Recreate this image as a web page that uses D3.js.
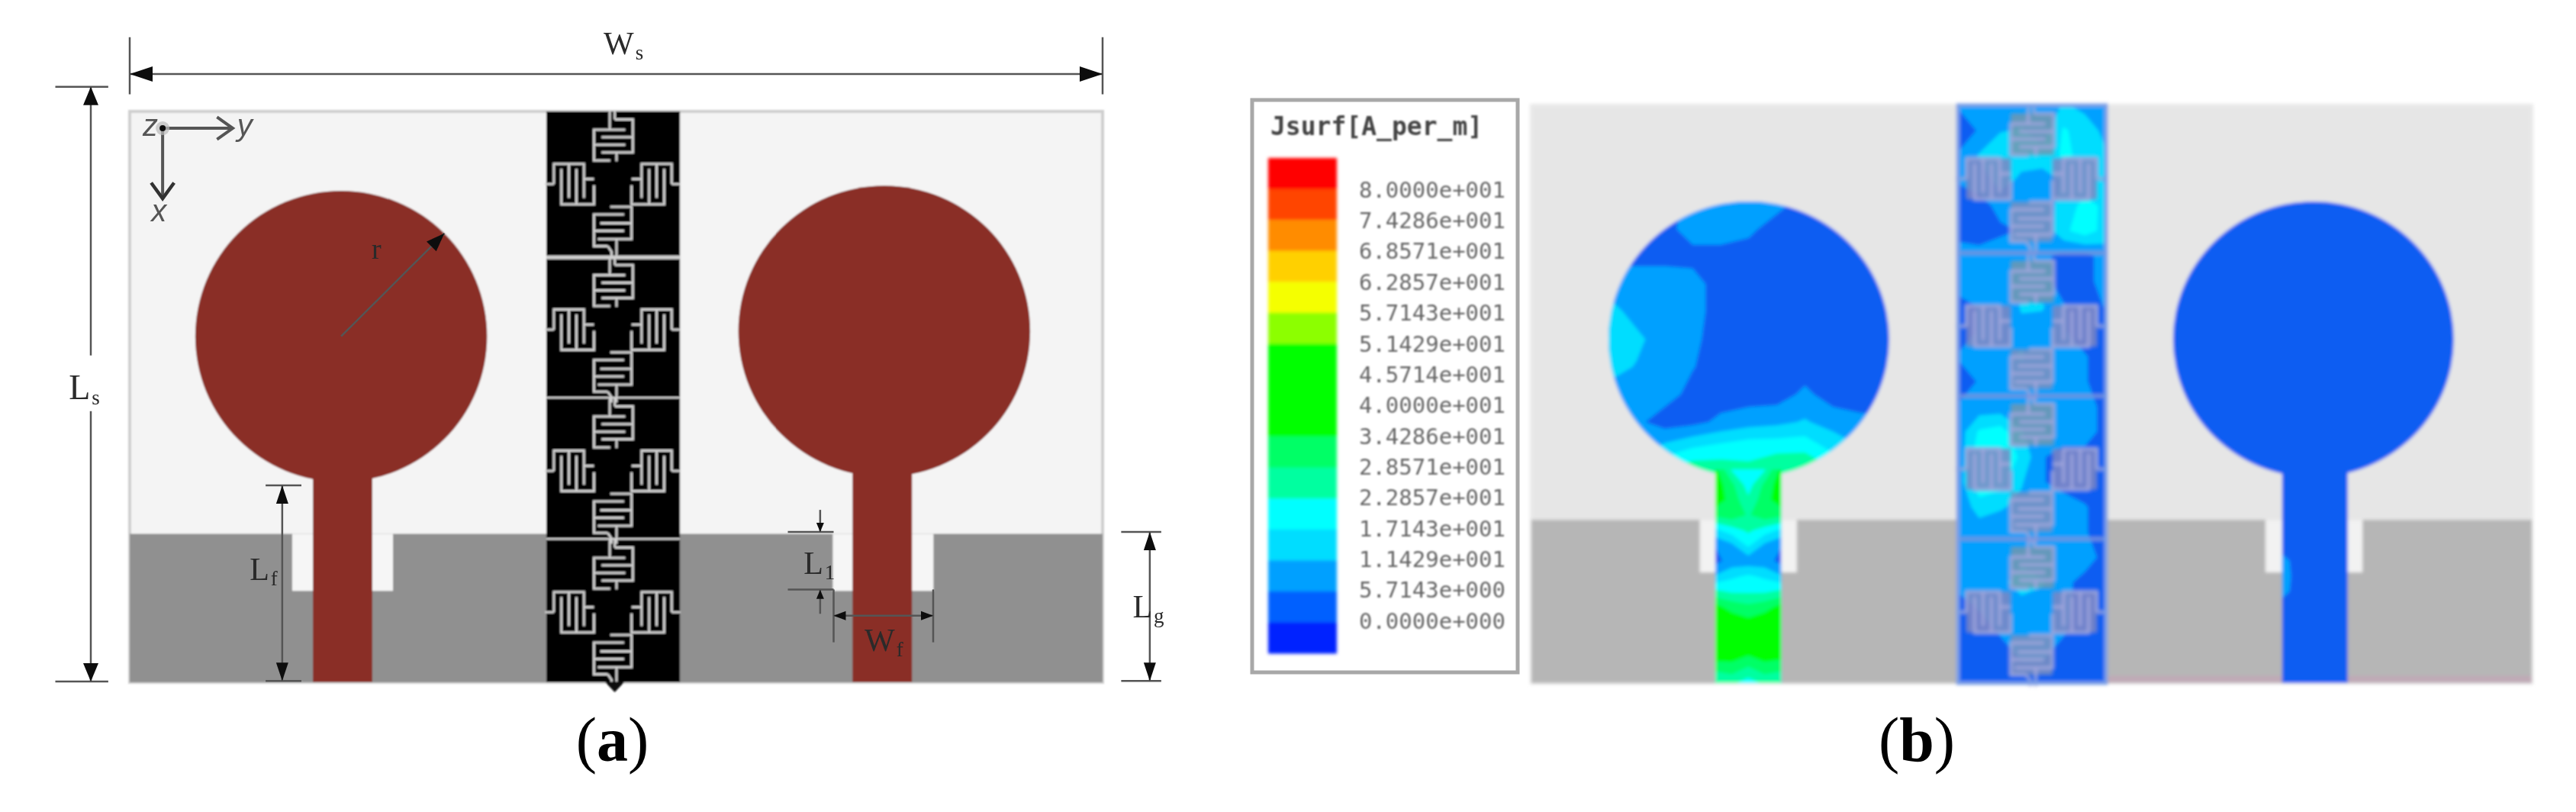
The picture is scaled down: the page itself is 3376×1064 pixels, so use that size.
<!DOCTYPE html>
<html>
<head>
<meta charset="utf-8">
<script src="https://cdn.jsdelivr.net/npm/d3@7"></script>
<style>
  html, body { margin: 0; padding: 0; background: #fff; }
  svg { display: block; }
</style>
</head>
<body>
<div id="wrapper"></div>
<script>
// legend of panel (b), top to bottom
const legendTitle = "Jsurf[A_per_m]"
const legendLabels = ["8.0000e+001", "7.4286e+001", "6.8571e+001", "6.2857e+001", "5.7143e+001",
    "5.1429e+001", "4.5714e+001", "4.0000e+001", "3.4286e+001", "2.8571e+001", "2.2857e+001",
    "1.7143e+001", "1.1429e+001", "5.7143e+000", "0.0000e+000"]
const legendColors = ["#ff0000", "#ff4400", "#ff8c00", "#ffd000", "#f5ff00", "#8cff00", "#00ff00", "#00ff00",
    "#00ff00", "#00ff66", "#00ffa0", "#00ffff", "#00ddff", "#00a0ff", "#0060ff", "#0020ff"]

// antenna dimensions, mm  [panel a, panel b]
const Ws = [34, 34]
const Ls = [20, 20]
const radius = [5.1, 4.77]
const patchX = [[7.39, 26.37], [7.39, 26.58]]
const patchY = [[7.88, 7.70], [8.1, 8.1]]
const feedX = [[7.44, 26.3], [7.37, 26.63]]
const feedW = [2.08, 2.23]
const slotX = [[7.44, 26.33], [7.37, 26.6]]
const slotW = [3.52, 3.3]
const Lg = [5.2, 5.65]
const L1 = [2.0, 1.82]
const Lf = 6.85
const cellX = [[14.56, 19.23], [14.5, 19.53]]
const unitTops = [0, 5.1, 10.05, 15]

// unit cell traces, in cell units
const topRes = [
    [[318, 50], [390, 50], [390, 180], [265, 180]],
    [[265, 120], [390, 120]],
    [[360, 90], [235, 90], [235, 212], [300, 212]],
    [[235, 150], [360, 150]],
]
const topStems = [[[318, 18], [318, 50]], [[298, 18], [298, 90]], [[325, 180], [325, 215]]]
const botRes = [
    [[300, 395], [385, 395], [385, 522], [250, 522]],
    [[260, 460], [385, 460]],
    [[355, 425], [235, 425], [235, 550], [290, 550]],
    [[235, 490], [355, 490]],
]
const botStems = [[[290, 550], [305, 572], [305, 593]], [[325, 522], [325, 593]]]
const sideRes = [
    [[75, 305], [75, 225], [195, 225], [195, 360]],
    [[135, 225], [135, 360]],
    [[105, 245], [105, 385], [235, 385], [235, 310]],
    [[165, 245], [165, 385]],
    [[195, 285], [235, 285]],
]
const sideStems = [[[40, 305], [75, 305]]]

// surface current, A/m
const leftDisc = [
    [4, 4, 4, 7, 8, 8, 8, 4, 4, 4, 4],
    [4, 4, 4, 8, 8, 7, 3, 3, 3, 3, 3],
    [4, 4, 4, 4, 4, 3, 3, 3, 3, 3, 3],
    [9, 9, 9, 8, 3, 3, 3, 3, 3, 3, 3],
    [14, 9, 9, 8, 3, 3, 3, 3, 3, 3, 3],
    [16, 13, 8, 7, 3, 3, 3, 3, 3, 3, 3],
    [14, 11, 8, 6, 3, 3, 3, 3, 3, 3, 3],
    [9, 9, 8, 4, 3, 3, 3, 7, 3, 3, 3],
    [9, 7, 3, 4, 7, 9, 10, 12, 9, 7, 7],
    [9, 9, 14, 18, 20, 22, 22, 22, 16, 12, 9],
    [9, 22, 26, 30, 28, 24, 28, 30, 26, 22, 9],
]
const leftFeed = [
    [36, 22, 20, 22, 36],
    [38, 30, 20, 30, 38],
    [38, 32, 24, 32, 38],
    [30, 32, 28, 32, 30],
    [16, 20, 24, 20, 16],
    [6, 10, 18, 10, 6],
    [4, 8, 8, 8, 4],
    [12, 16, 18, 16, 12],
    [24, 22, 22, 22, 24],
    [36, 32, 30, 32, 36],
    [40, 38, 36, 38, 38],
    [58, 40, 36, 40, 40],
    [40, 38, 36, 38, 38],
    [30, 32, 28, 32, 30],
    [24, 24, 20, 24, 24],
]
const rightFeed = [
    [3, 3, 3, 3, 3], [3, 3, 3, 3, 3], [3, 3, 3, 3, 3], [3, 3, 3, 3, 3], [3, 3, 3, 3, 3],
    [3, 3, 3, 3, 3], [8, 3, 3, 3, 3], [9, 3, 3, 3, 3], [8, 3, 3, 3, 3], [3, 3, 3, 3, 3],
    [3, 3, 3, 3, 3], [3, 3, 3, 3, 3], [3, 3, 3, 3, 3], [3, 3, 3, 3, 3], [3, 3, 3, 3, 3],
]
const cellField = [
    [6, 6, 7, 8, 8, 12, 10, 10],
    [4, 6, 11, 12, 8, 18, 14, 10],
    [6, 12, 16, 14, 14, 18, 16, 12],
    [6, 8, 14, 10, 9, 12, 14, 11],
    [4, 4, 7, 8, 8, 14, 19, 16],
    [4, 4, 5, 6, 7, 16, 20, 15],
    [8, 7, 8, 8, 7, 4, 4, 8],
    [8, 6, 9, 9, 7, 4, 4, 8],
    [4, 6, 7, 12, 12, 6, 4, 6],
    [4, 6, 7, 10, 9, 6, 4, 4],
    [6, 9, 10, 12, 9, 8, 6, 4],
    [4, 6, 8, 9, 9, 8, 6, 4],
    [6, 8, 8, 8, 8, 6, 8, 4],
    [8, 18, 20, 12, 6, 8, 8, 4],
    [7, 22, 22, 16, 6, 4, 4, 4],
    [8, 22, 20, 12, 6, 4, 4, 4],
    [7, 14, 12, 10, 9, 8, 6, 4],
    [8, 8, 8, 8, 7, 7, 6, 4],
    [8, 9, 9, 10, 8, 8, 8, 4],
    [7, 8, 10, 14, 12, 7, 4, 4],
    [4, 6, 7, 9, 9, 7, 4, 4],
    [4, 4, 6, 7, 7, 6, 4, 4],
    [4, 4, 4, 6, 6, 4, 4, 4],
    [4, 4, 4, 4, 4, 4, 4, 4],
]

const width = 3376
const height = 1064

const svg = d3.select("#wrapper")
    .append("svg")
    .attr("width", width)
    .attr("height", height)
    .style("background", "#fff")

const defs = svg.append("defs")
const blur = (id, s) => defs.append("filter").attr("id", id)
    .attr("x", "-5%").attr("y", "-5%").attr("width", "110%").attr("height", "110%")
    .append("feGaussianBlur").attr("stdDeviation", s)
blur("soft", 1.1)
blur("softer", 2)
blur("textBlur", 0.7)
blur("legendBlur", 1.2)
blur("cellBlur", 1.6)

// scales, mm to pixels, one pair for each panel
const xs = [d3.scaleLinear().domain([0, 34]).range([170, 1445]),
    d3.scaleLinear().domain([0, 34]).range([2007, 3318])]
const ys = [d3.scaleLinear().domain([0, 20]).range([146, 894]),
    d3.scaleLinear().domain([0, 20]).range([138, 895])]

const mirror = traces => traces.map(t => t.map(([a, b]) => [620 - a, b]))
const thresholds = legendLabels.map(Number).reverse()
const color = d3.scaleThreshold().domain(thresholds).range(legendColors.slice().reverse())
const allPts = traces => traces.flat()

// substrate, ground, slots and feed-and-disc shapes
function drawBoard(g, p, style) {
    const x = xs[p], y = ys[p]
    const gy = y(Ls[p] - Lg[p])
    g.append("rect").attr("x", x(0)).attr("y", y(0))
        .attr("width", x(Ws[p]) - x(0)).attr("height", y(Ls[p]) - y(0))
        .attr("fill", style.substrate).attr("stroke", style.border).attr("stroke-width", 4)
    g.append("rect").attr("x", x(0)).attr("y", gy)
        .attr("width", x(Ws[p]) - x(0)).attr("height", y(Ls[p]) - gy)
        .attr("fill", style.ground)
    g.selectAll(".slot").data(slotX[p]).join("rect")
        .attr("class", "slot")
        .attr("x", d => x(d - slotW[p] / 2))
        .attr("y", gy)
        .attr("width", x(slotW[p]) - x(0))
        .attr("height", y(L1[p]) - y(0))
        .attr("fill", style.slot)
}

function drawUnits(g, p, style) {
    const x = xs[p], y = ys[p]
    const ux = d3.scaleLinear().domain([45, 578]).range([x(cellX[p][0]), x(cellX[p][1])])
    const unit = g.selectAll(".unit").data(unitTops).join("g").attr("class", "unit")
    unit.each(function (top, i) {
        const uy = d3.scaleLinear().domain([18, 593]).range([y(top), y(top + 5.1)])
        const line = d3.line().x(d => ux(d[0])).y(d => uy(d[1]))
        const u = d3.select(this)
        const groups = [topRes, botRes, sideRes, mirror(sideRes)]
        if (style.body) {
            u.selectAll(".body").data(groups).join("rect")
                .attr("class", "body")
                .attr("x", d => ux(d3.min(allPts(d), c => c[0])))
                .attr("y", d => uy(d3.min(allPts(d), c => c[1])))
                .attr("width", d => ux(d3.max(allPts(d), c => c[0])) - ux(d3.min(allPts(d), c => c[0])))
                .attr("height", d => uy(d3.max(allPts(d), c => c[1])) - uy(d3.min(allPts(d), c => c[1])))
                .attr("fill", (d, j) => style.body[j])
                .attr("opacity", 0.85)
        }
        const traces = [...topRes, ...topStems, ...botRes, ...botStems,
            ...sideRes, ...sideStems, ...mirror(sideRes), ...mirror(sideStems)]
        u.selectAll(".trace").data(traces).join("path")
            .attr("class", "trace")
            .attr("d", line)
            .attr("fill", "none")
            .attr("stroke", style.trace)
            .attr("stroke-width", style.traceW)
    })
    // separators between the unit cells
    g.selectAll(".sep").data(unitTops.slice(1)).join("rect")
        .attr("class", "sep")
        .attr("x", x(cellX[p][0]))
        .attr("y", d => y(d) - 2)
        .attr("width", x(cellX[p][1]) - x(cellX[p][0]))
        .attr("height", (d, i) => i === 0 ? style.sepW[0] : style.sepW[1])
        .attr("fill", style.sep || style.trace)
}

// ---- panel (a)
const a = svg.append("g").attr("filter", "url(#soft)")
drawBoard(a, 0, { substrate: "#f4f4f4", border: "#cfcfcf", ground: "#909090", slot: "#f6f6f6" })

a.append("rect")
    .attr("x", xs[0](cellX[0][0])).attr("y", ys[0](0))
    .attr("width", xs[0](cellX[0][1]) - xs[0](cellX[0][0]))
    .attr("height", ys[0](Ls[0]) - ys[0](0))
    .attr("fill", "#000")
drawUnits(a, 0, { trace: "#cfcfcf", traceW: 3, sepW: [5, 2.5] })

// little stub under the black strip
a.append("path")
    .attr("d", d3.line()([[xs[0](16.6), ys[0](19.98)], [xs[0](17.3), ys[0](19.98)], [xs[0](16.95), ys[0](20.35)]]))
    .attr("fill", "#111")

// disc and feed
a.selectAll(".disc").data([0, 1]).join("ellipse")
    .attr("class", "disc")
    .attr("cx", d => xs[0](patchX[0][d]))
    .attr("cy", d => ys[0](patchY[0][d]))
    .attr("rx", xs[0](radius[0]) - xs[0](0))
    .attr("ry", ys[0](radius[0]) - ys[0](0))
    .attr("fill", "#8a2f28")
a.selectAll(".feed").data([0, 1]).join("rect")
    .attr("class", "feed")
    .attr("x", d => xs[0](feedX[0][d] - feedW[0] / 2))
    .attr("y", d => ys[0](patchY[0][d] + 4.5))
    .attr("width", xs[0](feedW[0]) - xs[0](0))
    .attr("height", d => ys[0](Ls[0]) - ys[0](patchY[0][d] + 4.5))
    .attr("fill", "#8a2f28")

// ---- annotations of (a), positions in mm
const ann = svg.append("g").attr("filter", "url(#textBlur)")
const X = xs[0], Y = ys[0]

function seg(x1, y1, x2, y2, w) {
    ann.append("line")
        .attr("x1", X(x1)).attr("y1", Y(y1)).attr("x2", X(x2)).attr("y2", Y(y2))
        .attr("stroke", "#555").attr("stroke-width", w || 2.5)
}
// solid arrow head with its tip at x, y, pointing along dir in degrees
function head(x, y, dir, len, half) {
    ann.append("path")
        .attr("d", d3.line()([[0, 0], [-len, -half], [-len, half]]) + "Z")
        .attr("transform", `translate(${X(x)},${Y(y)}) rotate(${dir})`)
        .attr("fill", "#111")
}
function label(x, y, main, sub, size) {
    const t = ann.append("text")
        .attr("x", X(x)).attr("y", Y(y))
        .attr("font-family", "'Liberation Serif', serif")
        .attr("font-size", size || 42)
        .attr("fill", "#2a2a2a")
        .text(main)
    if (sub) {
        t.append("tspan").attr("dx", 2).attr("dy", 7).attr("font-size", 27).text(sub)
    }
}

// Ws
seg(0, -1.31, Ws[0], -1.31)
seg(0, -2.6, 0, -0.6, 2.5)
seg(Ws[0], -2.6, Ws[0], -0.6, 2.5)
head(0, -1.31, 180, 30, 10)
head(Ws[0], -1.31, 0, 30, 10)
label(16.56, -2.0, "W", "s", 42)

// Ls, the line stops around its label
seg(-1.36, -0.86, -1.36, 8.55)
seg(-1.36, 10.5, -1.36, 20)
seg(-2.6, -0.86, -0.75, -0.86)
seg(-2.6, 19.97, -0.75, 19.97)
head(-1.36, -0.86, -90, 24, 10)
head(-1.36, 19.97, 90, 24, 10)
label(-2.13, 10.07, "L", "s", 46)

// Lf
seg(5.33, Ls[0] - Lf - 0.05, 5.33, 19.95)
seg(4.75, 13.1, 6.0, 13.1)
seg(4.75, 19.95, 6.0, 19.95)
head(5.33, 13.1, -90, 24, 8)
head(5.33, 19.95, 90, 24, 8)
label(4.19, 16.42, "L", "f", 42)

// L1
seg(24.13, 13.96, 24.13, 14.73)
seg(24.13, 16.76, 24.13, 17.6)
seg(23.0, 14.73, 24.6, 14.73)
seg(23.0, 16.75, 24.6, 16.75)
head(24.13, 14.73, 90, 12, 5)
head(24.13, 16.76, -90, 12, 5)
label(23.55, 16.2, "L", "1", 42)

// Wf
seg(24.6, 17.67, 28.08, 17.67)
seg(24.6, 16.75, 24.6, 18.6)
seg(28.08, 16.75, 28.08, 18.6)
head(24.6, 17.67, 180, 16, 6)
head(28.08, 17.67, 0, 16, 6)
label(25.68, 18.9, "W", "f", 42)

// Lg
seg(35.65, 14.73, 35.65, 19.95)
seg(34.65, 14.73, 36.05, 14.73)
seg(34.65, 19.95, 36.05, 19.95)
head(35.65, 14.73, -90, 24, 8)
head(35.65, 19.95, 90, 24, 8)
label(35.05, 17.73, "L", "g", 42)

// r
const rTip = radius[0] * Math.SQRT1_2
seg(patchX[0][0], patchY[0][0], patchX[0][0] + rTip, patchY[0][0] - rTip, 2.5)
head(patchX[0][0] + rTip, patchY[0][0] - rTip, -45, 24, 9)
label(8.45, 5.16, "r", null, 38)

// axes marker
seg(1.15, 0.59, 3.6, 0.59, 4)
seg(1.15, 0.59, 1.15, 3.0, 4)
ann.append("circle").attr("cx", X(1.15)).attr("cy", Y(0.59)).attr("r", 9)
    .attr("fill", "#bbb").attr("opacity", 0.7)
ann.append("circle").attr("cx", X(1.15)).attr("cy", Y(0.59)).attr("r", 4).attr("fill", "#111")
ann.append("path")
    .attr("d", d3.line()([[X(3.05), Y(0.2)], [X(3.6), Y(0.59)], [X(3.05), Y(0.98)]]))
    .attr("fill", "none").attr("stroke", "#555").attr("stroke-width", 4)
ann.append("path")
    .attr("d", d3.line()([[X(0.75), Y(2.5)], [X(1.15), Y(3.05)], [X(1.55), Y(2.5)]]))
    .attr("fill", "none").attr("stroke", "#333").attr("stroke-width", 4.5)
ann.selectAll(".axisName").data([["z", 0.45, 0.85], ["y", 3.75, 0.85], ["x", 0.75, 3.85]]).join("text")
    .attr("class", "axisName")
    .attr("x", d => X(d[1])).attr("y", d => Y(d[2]))
    .attr("font-family", "'Liberation Sans', sans-serif")
    .attr("font-style", "italic")
    .attr("font-size", 40)
    .attr("fill", "#555")
    .text(d => d[0])

// ---- legend of (b)
const legendBox = svg.append("g")
legendBox.append("rect")
    .attr("x", 1641).attr("y", 131).attr("width", 348).attr("height", 750)
    .attr("fill", "#fff").attr("stroke", "#a8a8a8").attr("stroke-width", 5)
    .attr("filter", "url(#textBlur)")

const legendY = d3.scaleBand().domain(d3.range(legendColors.length)).range([207, 856])
legendBox.append("g").attr("filter", "url(#softer)")
    .selectAll("rect").data(legendColors).join("rect")
    .attr("x", 1662)
    .attr("width", 90)
    .attr("y", (d, i) => legendY(i))
    .attr("height", legendY.bandwidth() + 0.5)
    .attr("fill", d => d)

const labelY = d3.scalePoint().domain(legendLabels).range([249, 814])
const legendAxis = d3.axisRight(labelY).tickSize(0).tickPadding(0)
legendBox.append("g")
    .attr("transform", "translate(1973,0)")
    .call(legendAxis)
    .call(g => g.select(".domain").remove())
    .call(g => g.selectAll("text")
        .attr("x", 0)
        .attr("text-anchor", "end")
        .attr("font-family", "'DejaVu Sans Mono', monospace")
        .attr("font-size", 29)
        .attr("fill", "#666")
        .attr("filter", "url(#legendBlur)"))

legendBox.append("text")
    .attr("x", 1665).attr("y", 177)
    .attr("font-family", "'DejaVu Sans Mono', monospace")
    .attr("font-weight", "bold")
    .attr("font-size", 33)
    .attr("fill", "#444")
    .attr("filter", "url(#legendBlur)")
    .text(legendTitle)

// ---- panel (b)
const b = svg.append("g").attr("filter", "url(#softer)")
drawBoard(b, 1, { substrate: "#e6e6e6", border: "#e9e9e9", ground: "#b6b6b6", slot: "#f2f2f2" })

// faint tint along the lower right edge
b.append("rect")
    .attr("x", xs[1](17.4)).attr("y", ys[1](19.75))
    .attr("width", xs[1](Ws[1]) - xs[1](17.4)).attr("height", ys[1](20) - ys[1](19.75))
    .attr("fill", "#bfaab6")

const baseBlue = "#0a5df2"

// filled contour bands of a value grid, clipped to a shape
function drawField(id, grid, x0, x1, y0, y1, shape) {
    const rows = grid.length, cols = grid[0].length
    defs.append("clipPath").attr("id", id).call(shape)
    const gx = d3.scaleLinear().domain([0, cols - 1]).range([x0, x1])
    const gy = d3.scaleLinear().domain([0, rows - 1]).range([y0, y1])
    const path = d3.geoPath(d3.geoTransform({
        point(px, py) { this.stream.point(gx(px - 0.5), gy(py - 0.5)) },
    }))
    const bands = d3.contours().size([cols, rows]).thresholds(thresholds.slice(1, 9))(grid.flat())
    const f = b.append("g").attr("clip-path", `url(#${id})`)
    f.selectAll("path").data(bands).join("path")
        .attr("d", path)
        .attr("fill", d => color(d.value))
    return f
}

const bx = xs[1], by = ys[1]
const rx1 = bx(radius[1]) - bx(0), ry1 = by(radius[1]) - by(0)
const discClip = i => s => s.append("ellipse")
    .attr("cx", bx(patchX[1][i])).attr("cy", by(patchY[1][i])).attr("rx", rx1).attr("ry", ry1)
const feedClip = i => s => s.append("rect")
    .attr("x", bx(feedX[1][i] - feedW[1] / 2)).attr("y", by(patchY[1][i] + 4.5))
    .attr("width", bx(feedW[1]) - bx(0)).attr("height", by(Ls[1]) - by(patchY[1][i] + 4.5))

b.selectAll(".disc").data([0, 1]).join("ellipse")
    .attr("class", "disc")
    .attr("cx", d => bx(patchX[1][d]))
    .attr("cy", d => by(patchY[1][d]))
    .attr("rx", rx1).attr("ry", ry1)
    .attr("fill", baseBlue)
b.selectAll(".feed").data([0, 1]).join("rect")
    .attr("class", "feed")
    .attr("x", d => bx(feedX[1][d] - feedW[1] / 2))
    .attr("y", d => by(patchY[1][d] + 4.5))
    .attr("width", bx(feedW[1]) - bx(0))
    .attr("height", d => by(Ls[1]) - by(patchY[1][d] + 4.5))
    .attr("fill", baseBlue)

drawField("discL", leftDisc,
    bx(patchX[1][0] - radius[1]), bx(patchX[1][0] + radius[1]),
    by(patchY[1][0] - radius[1]), by(patchY[1][0] + radius[1]), discClip(0))
drawField("feedL", leftFeed,
    bx(feedX[1][0] - feedW[1] / 2), bx(feedX[1][0] + feedW[1] / 2),
    by(patchY[1][0] + 4.5), by(Ls[1]), feedClip(0))
drawField("feedR", rightFeed,
    bx(feedX[1][1] - feedW[1] / 2), bx(feedX[1][1] + feedW[1] / 2),
    by(patchY[1][1] + 4.5), by(Ls[1]), feedClip(1))

// metamaterial strip
b.append("rect")
    .attr("x", bx(cellX[1][0])).attr("y", by(0))
    .attr("width", bx(cellX[1][1]) - bx(cellX[1][0])).attr("height", by(Ls[1]) - by(0))
    .attr("fill", baseBlue)
drawField("cells", cellField, bx(cellX[1][0]), bx(cellX[1][1]), by(0), by(Ls[1]), s => s.append("rect")
    .attr("x", bx(cellX[1][0])).attr("y", by(0))
    .attr("width", bx(cellX[1][1]) - bx(cellX[1][0])).attr("height", by(Ls[1]) - by(0)))
drawUnits(b.append("g").attr("filter", "url(#cellBlur)"), 1, {
    trace: "#a0a6dc", traceW: 4, sepW: [5, 5], sep: "#7d93dc",
    body: ["#7396ae", "#7b8fbe", "#7f86c2", "#7f86c2"],
})
b.append("rect")
    .attr("x", bx(cellX[1][0])).attr("y", by(0))
    .attr("width", bx(cellX[1][1]) - bx(cellX[1][0])).attr("height", by(Ls[1]) - by(0))
    .attr("fill", "none").attr("stroke", "#7c9fe6").attr("stroke-width", 5)

// ---- panel captions
const captions = [["a", (xs[0](0) + xs[0](34)) / 2 - 5], ["b", 2512]]
const cap = svg.selectAll(".caption").data(captions).join("text")
    .attr("class", "caption")
    .attr("x", d => d[1])
    .attr("y", 997)
    .attr("text-anchor", "middle")
    .attr("font-family", "'Liberation Serif', serif")
    .attr("font-size", 82)
    .attr("fill", "#000")
cap.append("tspan").text("(")
cap.append("tspan").attr("font-weight", "bold").text(d => d[0])
cap.append("tspan").text(")")
</script>
</body>
</html>
